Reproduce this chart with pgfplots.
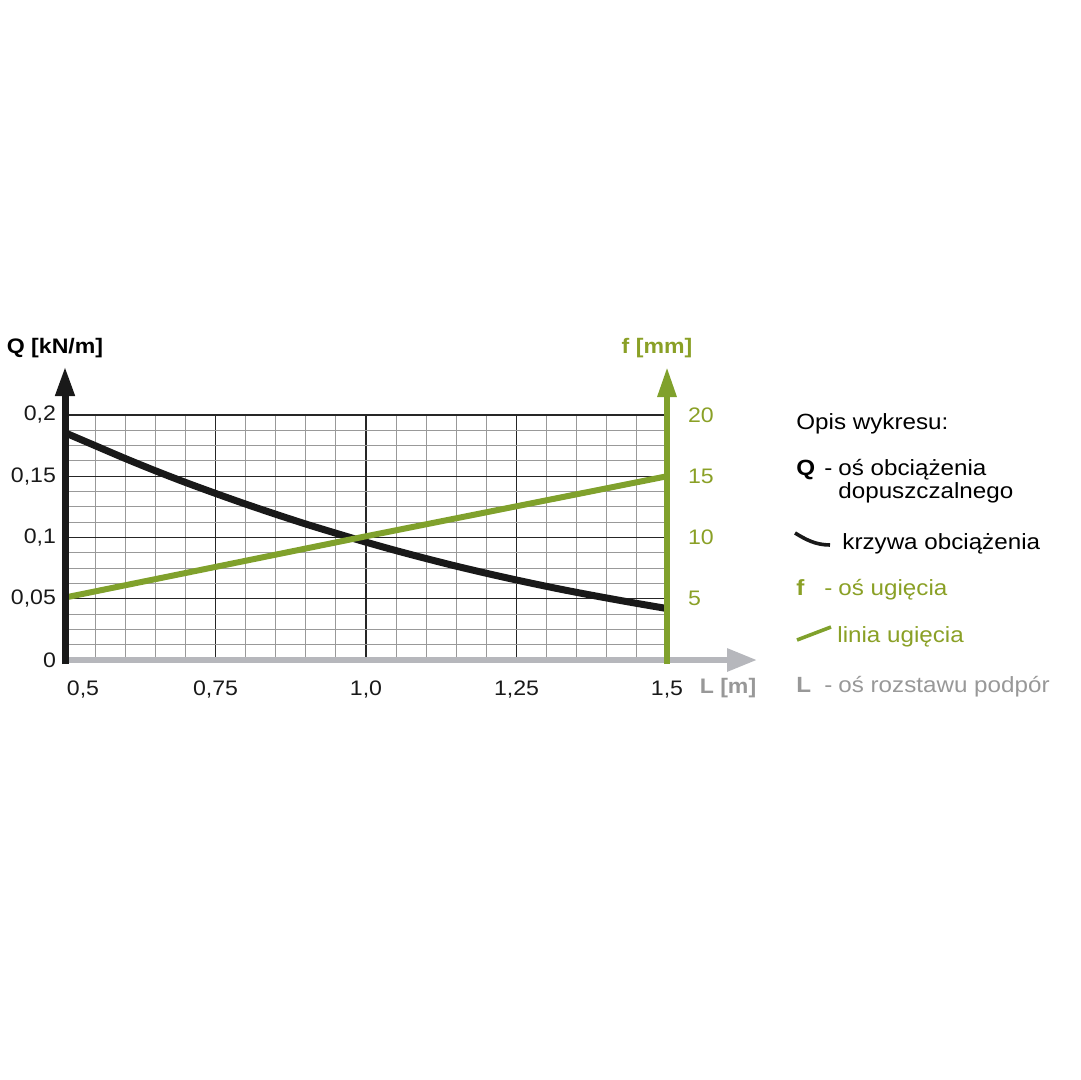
\documentclass[border=0pt]{standalone}
\usepackage{fontspec}
\setmainfont{Liberation Sans}[FakeStretch=1.1]
\usepackage{pgfplots}
\pgfplotsset{compat=1.18}
\usetikzlibrary{arrows.meta}
\definecolor{linegreen}{RGB}{128,161,44}
\definecolor{txtgreen}{RGB}{138,160,38}
\definecolor{axisgrey}{RGB}{182,183,188}
\definecolor{txtgrey}{RGB}{152,152,152}
\definecolor{curvecol}{RGB}{25,25,25}
\begin{document}
\begin{tikzpicture}
\useasboundingbox (0pt,0pt) rectangle (540pt,-540pt);
\begin{axis}[
  at={(32.5pt,-330pt)}, anchor=south west,
  scale only axis, width=301pt, height=122.5pt,
  xmin=0.5, xmax=1.5, ymin=0, ymax=0.2, clip=false,
  axis line style={draw=none}, tick style={draw=none},
  xtick={0.5,0.75,1,1.25,1.5},
  xticklabels={{\hspace*{18pt}0,5},{0,75},{1,0},{1,25},{1,5}},
  minor x tick num=4,
  ytick={0,0.05,0.1,0.15,0.2},
  yticklabels={0,{0,05},{0,1},{0,15},{0,2}},
  minor y tick num=3,
  grid=both,
  major grid style={black!85, line width=0.55pt},
  minor grid style={black!40, line width=0.5pt},
  ticklabel style={font=\fontsize{10.5}{12}\selectfont, text=black!90},
  xticklabel style={yshift=-7pt},
  yticklabel style={xshift=-1pt},
]
\addplot[line width=3.5pt, curvecol, smooth] coordinates {
(0.50,0.1855) (0.55,0.1750) (0.60,0.1645) (0.65,0.1545) (0.70,0.1450)
(0.75,0.1360) (0.80,0.1273) (0.85,0.1190) (0.90,0.1110) (0.95,0.1035)
(1.00,0.0962) (1.05,0.0893) (1.10,0.0828) (1.15,0.0766) (1.20,0.0708)
(1.25,0.0653) (1.30,0.0601) (1.35,0.0552) (1.40,0.0506) (1.45,0.0462)
(1.50,0.0420)};
\end{axis}
\begin{axis}[
  at={(32.5pt,-330pt)}, anchor=south west,
  scale only axis, width=301pt, height=122.5pt,
  xmin=0.5, xmax=1.5, ymin=0, ymax=20, clip=false,
  hide x axis, axis line style={draw=none}, tick style={draw=none},
  ytick={5,10,15,20}, yticklabel pos=right,
  /pgf/number format/assume math mode=true,
  yticklabel style={text=txtgreen, xshift=7pt, font=\fontsize{10.5}{12}\selectfont},
]
\addplot[line width=3pt, linegreen] coordinates {(0.5,5.1) (1.0,10.1) (1.5,15.0)};
\end{axis}
\begin{scope}[x=0.5pt,y=-0.5pt]
% axes
\draw[line width=3pt, axisgrey, -{Triangle[length=15pt,width=11pt]}] (62,660) -- (757,660);
\draw[line width=3.5pt, curvecol, -{Triangle[length=15pt,width=9pt]}] (65,664) -- (65,366);
\draw[line width=3pt, linegreen, -{Triangle[length=15pt,width=9pt]}] (667,664) -- (667,367);
% axis titles
\node[font=\fontsize{10.5}{13}\selectfont\bfseries] at (55,348) {Q [kN/m]};
\node[font=\fontsize{10.5}{13}\selectfont\bfseries, text=txtgreen] at (657,348) {f [mm]};
\node[font=\fontsize{10.5}{13}\selectfont\bfseries, text=txtgrey] at (728,688) {L [m]};
% description
\begin{scope}[every node/.style={anchor=base west, inner sep=0pt, font=\fontsize{11}{13}\selectfont}]
\node at (796,429) {Opis wykresu:};
\node[font=\fontsize{11}{13}\selectfont\bfseries] at (796,475) {Q};
\node at (824,475) {-};
\node at (838,475) {oś obciążenia};
\node at (838,498) {dopuszczalnego};
\draw[line width=1.8pt, curvecol] (795,533) .. controls (805,539) and (815,545) .. (830,545);
\node at (842,549) {krzywa obciążenia};
\node[font=\fontsize{11}{13}\selectfont\bfseries, text=txtgreen] at (796,595) {f};
\node[text=txtgreen] at (824,595) {-};
\node[text=txtgreen] at (838,595) {oś ugięcia};
\draw[line width=1.8pt, linegreen] (797,640) -- (831,627);
\node[text=txtgreen] at (837,642) {linia ugięcia};
\node[font=\fontsize{11}{13}\selectfont\bfseries, text=txtgrey] at (796,692) {L};
\node[text=txtgrey] at (824,692) {-};
\node[text=txtgrey] at (838,692) {oś rozstawu podpór};
\end{scope}
\end{scope}
\end{tikzpicture}
\end{document}
